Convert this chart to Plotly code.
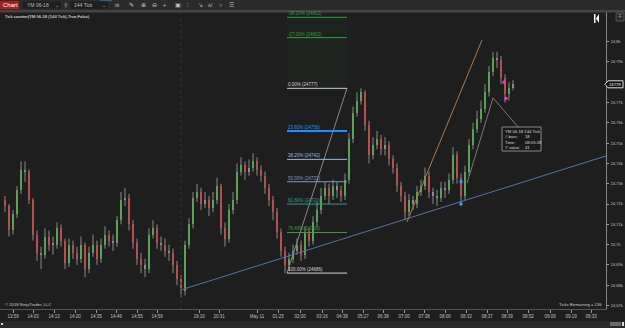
import plotly.graph_objects as go

# ---------------- data ----------------
first_open = 24722
closes = [24719,24707,24715,24727,24737,24736,24722,24705,24696,24695,
          24704,24700,24700,24708,24702,24691,24700,24696,24693,24700,
          24688,24696,24700,24693,24700,24705,24702,24701,24712,24722,
          24723,24710,24701,24693,24690,24688,24705,24708,24701,24700,
          24697,24696,24690,24683,24677,24700,24710,24723,24726,24720,
          24722,24718,24722,24729,24708,24703,24717,24722,24736,24739,
          24736,24738,24741,24737,24734,24728,24722,24716,24706,24697,
          24690,24693,24697,24700,24695,24706,24702,24711,24717,24724,
          24728,24724,24729,24727,24724,24732,24752,24765,24771,24775,
          24759,24744,24749,24752,24747,24749,24742,24738,24729,24724,
          24716,24722,24720,24726,24729,24734,24726,24724,24723,24728,
          24727,24732,24744,24733,24724,24736,24749,24757,24762,24767,
          24775,24785,24792,24791,24782,24774,24777,24779]
highs = [24724,24720,24717,24729,24741,24741,24737,24723,24707,24699,
         24708,24707,24704,24711,24710,24703,24703,24702,24699,24704,
         24701,24699,24705,24702,24703,24709,24707,24705,24714,24726,
         24728,24725,24712,24703,24696,24693,24708,24712,24710,24704,
         24703,24700,24698,24692,24685,24702,24713,24726,24730,24728,
         24726,24724,24726,24733,24730,24711,24720,24726,24740,24743,
         24741,24742,24745,24743,24739,24736,24730,24724,24718,24708,
         24699,24696,24700,24703,24702,24709,24708,24714,24721,24728,
         24731,24730,24732,24731,24729,24735,24755,24768,24775,24777,
         24776,24761,24753,24756,24754,24753,24751,24744,24740,24731,
         24726,24725,24724,24729,24732,24738,24736,24728,24727,24731,
         24731,24735,24748,24746,24735,24739,24752,24760,24766,24771,
         24779,24788,24795,24795,24793,24784,24780,24781]
lows = [24716,24704,24705,24713,24725,24731,24720,24702,24692,24688,
        24693,24697,24695,24698,24699,24688,24689,24693,24690,24691,
        24684,24686,24694,24690,24691,24698,24699,24697,24699,24710,
        24719,24707,24698,24690,24686,24684,24686,24703,24698,24697,
        24694,24692,24686,24680,24674,24675,24698,24708,24721,24717,
        24718,24714,24716,24720,24705,24699,24701,24715,24720,24734,
        24732,24734,24736,24734,24731,24725,24719,24712,24703,24694,
        24686,24687,24691,24695,24692,24693,24699,24700,24709,24715,
        24722,24720,24722,24723,24721,24722,24730,24750,24763,24769,
        24756,24740,24742,24747,24744,24744,24739,24735,24726,24721,
        24712,24714,24717,24718,24724,24727,24723,24720,24719,24721,
        24723,24725,24730,24730,24720,24722,24734,24747,24755,24760,
        24765,24773,24783,24787,24779,24770,24771,24776]

tick_pos = [2, 7, 12.25, 17.5, 22.75, 27.75, 33, 38, 48.5, 53.5, 63, 68.25, 73.75,
            79.25, 84.25, 89.5, 94.5, 99.75, 104.75, 110, 115.25, 120.5, 125.5, 130.75,
            136.25, 141.5, 146.5]
tick_text = ["13:59", "14:03", "14:13", "14:20", "14:35", "14:49", "14:55", "14:59",
             "19:10", "20:31", "May 11", "01:25", "02:00", "03:16", "04:38", "05:27",
             "06:38", "07:00", "07:38", "08:00", "08:33", "08:37", "08:39", "08:52",
             "09:06", "09:19", "09:33"]

price_ticks = [24670, 24680, 24690, 24700, 24710, 24720, 24730, 24740, 24750,
               24760, 24770, 24790, 24800]
last_price = 24779

fib_pct = ["-38.20%", "-27.00%", "0.00%", "23.60%", "38.20%", "50.00%", "61.80%", "76.40%", "100.00%"]
fib_price = [24812, 24802, 24777, 24756, 24742, 24731, 24720, 24706, 24686]
fib_anchor_x = [70.5, 85.5]
fib_anchor_y = [24686, 24777]

trend_blue_x = [44, 150.25]
trend_blue_y = [24677.7, 24743.7]
trend_tan_x = [100.5, 119.25]
trend_tan_y = [24711.2, 24800.8]
ray_x = [115.5, 122, 128.25]
ray_y = [24730.3, 24772.3, 24758]

blue_mark_x = [114, 114]
blue_mark_y = [24731, 24720]
pink_mark_x = [124.75, 125.25]
pink_mark_y = [24780, 24772]

# ---------------- geometry helpers (chrome only) ----------------
W, H = 625, 328
L, R, T, B = 0, 19, 11, 19
PW, PH = W - L - R, H - T - B


def px(x):
    return (x - L) / PW


def py(y):
    return (H - B - y) / PH


BG = "#1e1e1e"
opens = [first_open] + closes[:-1]
idx = list(range(len(closes)))

wx, wy = [], []
for i, h, l in zip(idx, highs, lows):
    wx += [i, i, None]
    wy += [l, h, None]

body_base, body_len, body_col = [], [], []
for o, c in zip(opens, closes):
    body_base.append(min(o, c))
    body_len.append(max(abs(c - o), 0.7))
    if abs(c - o) <= 2:
        body_col.append("#8c8c8c")
    elif c > o:
        body_col.append("#2fb52f")
    else:
        body_col.append("#e2141a")

fig = go.Figure()
fig.add_trace(go.Scatter(x=wx, y=wy, mode="lines", line=dict(color="#8a8a8a", width=1),
                         hoverinfo="skip", showlegend=False))
fig.add_trace(go.Bar(x=idx, y=body_len, base=body_base, width=0.55,
                     marker=dict(color=body_col, line=dict(width=0)), showlegend=False))

# trend lines
fig.add_trace(go.Scatter(x=trend_blue_x, y=trend_blue_y, mode="lines",
                         line=dict(color="#5673a8", width=1), showlegend=False))
fig.add_trace(go.Scatter(x=trend_tan_x, y=trend_tan_y, mode="lines",
                         line=dict(color="#b07a50", width=1), showlegend=False))
fig.add_trace(go.Scatter(x=fib_anchor_x, y=fib_anchor_y, mode="lines",
                         line=dict(color="#8a8a8a", width=1), showlegend=False))
fig.add_trace(go.Scatter(x=ray_x, y=ray_y, mode="lines",
                         line=dict(color="#7a7a7a", width=1), showlegend=False))
fig.add_trace(go.Scatter(x=blue_mark_x, y=blue_mark_y, mode="markers",
                         marker=dict(symbol="square", size=3, color="#3d9bff"), showlegend=False))
fig.add_trace(go.Scatter(x=pink_mark_x, y=pink_mark_y, mode="markers",
                         marker=dict(symbol="square", size=3, color="#ff33cc"), showlegend=False))

shapes = []
annotations = []

# fibonacci levels
fib_cols = ["#2e9e3e", "#2e9e3e", "#cfcfcf", "#1e90ff", "#9ab8e0", "#7f9bbf", "#3a9a8a", "#3ca03c", "#d8d8d8"]
fib_w = [1, 1, 1, 2, 1, 1, 1, 1, 1]
shapes.append(dict(type="rect", xref="x", yref="y", x0=fib_anchor_x[0], x1=fib_anchor_x[1],
                   y0=fib_price[2], y1=fib_price[0], fillcolor="rgba(50,110,60,0.07)",
                   line=dict(width=0), layer="below"))
for p, lab, col, w in zip(fib_price, fib_pct, fib_cols, fib_w):
    shapes.append(dict(type="line", xref="x", yref="y", x0=fib_anchor_x[0], x1=fib_anchor_x[1],
                       y0=p, y1=p, line=dict(color=col, width=w)))
    annotations.append(dict(xref="x", yref="y", x=fib_anchor_x[0], y=p, text=f"{lab} ({p})",
                            showarrow=False, xanchor="left", yanchor="bottom", borderpad=0,
                            font=dict(size=4.5, color=col, family="Liberation Sans")))

# session break
shapes.append(dict(type="line", xref="x", yref="paper", x0=44, x1=44, y0=0, y1=1,
                   line=dict(color="#333333", width=1, dash="dot")))

# toolbar & chrome
shapes.append(dict(type="rect", xref="paper", yref="paper", x0=px(0), x1=px(W), y0=py(0), y1=py(10),
                   fillcolor="#2b2b2b", line=dict(width=0)))
shapes.append(dict(type="rect", xref="paper", yref="paper", x0=px(0), x1=px(W), y0=py(10), y1=py(12.5),
                   fillcolor="#444444", line=dict(width=0)))
shapes.append(dict(type="rect", xref="paper", yref="paper", x0=px(100), x1=px(112), y0=py(0), y1=py(1),
                   fillcolor="#3a5f8a", line=dict(width=0)))
shapes.append(dict(type="rect", xref="paper", yref="paper", x0=px(0), x1=px(19), y0=py(1), y1=py(9),
                   fillcolor="#a81d1d", line=dict(width=0)))
for a, b in [(23, 61), (70, 108)]:
    shapes.append(dict(type="rect", xref="paper", yref="paper", x0=px(a), x1=px(b), y0=py(1.5), y1=py(8.5),
                       fillcolor="#1f1f1f", line=dict(width=0)))
shapes.append(dict(type="rect", xref="paper", yref="paper", x0=px(0), x1=px(W), y0=py(321), y1=py(H),
                   fillcolor="#2a2a2a", line=dict(width=0)))
shapes.append(dict(type="rect", xref="paper", yref="paper", x0=px(610), x1=px(621), y0=py(322), y1=py(326),
                   fillcolor="#6a6a6a", line=dict(width=0)))
shapes.append(dict(type="rect", xref="paper", yref="paper", x0=px(622), x1=px(624), y0=py(322), y1=py(326),
                   fillcolor="#dddddd", line=dict(width=0)))
shapes.append(dict(type="rect", xref="paper", yref="paper", x0=px(1), x1=px(3), y0=py(323), y1=py(325),
                   fillcolor="#dddddd", line=dict(width=0)))
# |< icon
shapes.append(dict(type="rect", xref="paper", yref="paper", x0=px(594), x1=px(595.5), y0=py(14), y1=py(23),
                   fillcolor="#ffffff", line=dict(width=0)))
shapes.append(dict(type="path", xref="paper", yref="paper",
                   path=f"M {px(599)} {py(14)} L {px(596)} {py(18.5)} L {px(599)} {py(23)} Z",
                   fillcolor="#ffffff", line=dict(width=0)))
shapes.append(dict(type="rect", xref="paper", yref="paper", x0=px(616), x1=px(624), y0=py(13), y1=py(21),
                   fillcolor="#2b2b2b", line=dict(color="#555", width=1)))
# last price box
yl = 84.3
shapes.append(dict(type="path", xref="paper", yref="paper",
                   path=(f"M {px(605)} {py(yl)} L {px(608)} {py(yl-3.5)} L {px(623)} {py(yl-3.5)} "
                         f"L {px(623)} {py(yl+3.5)} L {px(608)} {py(yl+3.5)} Z"),
                   fillcolor="#111111", line=dict(color="#e0e0e0", width=1)))
# tooltip box
shapes.append(dict(type="rect", xref="paper", yref="paper", x0=px(502), x1=px(541), y0=py(127), y1=py(151),
                   fillcolor="#1a1a1a", line=dict(color="#8a8a8a", width=1)))


def ann(x, y, text, size=4.5, color="#dddddd", xanchor="left", yanchor="middle"):
    annotations.append(dict(xref="paper", yref="paper", x=px(x), y=py(y), text=text, showarrow=False,
                            xanchor=xanchor, yanchor=yanchor, borderpad=0,
                            font=dict(size=size, color=color, family="Liberation Sans")))


ann(1.5, 5, "Chart", size=6, color="#ffffff")
ann(26, 5, "YM 06-18", size=5, color="#bbbbbb")
ann(54, 5, "⌄", size=5, color="#bbbbbb")
ann(63, 5, "⚲", size=5, color="#bbbbbb")
ann(73, 5, "144 Tick", size=5, color="#bbbbbb")
ann(101, 5, "⌄", size=5, color="#bbbbbb")
for xx, g in [(114, "ılı"), (128, "✎"), (140, "⊕"), (151, "⊖"), (162, "+"), (174, "▣"),
              (186, "⫶"), (197, "↘"), (207, "ʌ/"), (218, "○"), (228, "☰")]:
    ann(xx, 5, g, size=5.5, color="#c8c8c8")
ann(618, 17, "F", size=4.5, color="#aaaaaa")
ann(4, 17, "Tick counter(YM 06-18 (144 Tick),True,False)", size=4.2, color="#ffffff")
ann(4, 304, "© 2018 NinjaTrader, LLC", size=4.2, color="#cfcfcf")
ann(603, 304, "Ticks Remaining = 136", size=4.2, color="#cfcfcf", xanchor="right")
ann(615, yl, str(last_price), size=4.2, color="#ffffff", xanchor="center")
ann(504, 131, "YM 06-18 144 Tick", size=4.2)
ann(504, 136.5, "# bars:", size=4.2)
ann(504, 142, "Time:", size=4.2)
ann(504, 147.5, "Y value:", size=4.2)
ann(524, 136.5, "18", size=4.2)
ann(524, 142, "08:05:28", size=4.2)
ann(524, 147.5, "41", size=4.2)

fig.update_layout(
    width=W, height=H,
    margin=dict(l=L, r=R, t=T, b=B, autoexpand=False),
    paper_bgcolor=BG, plot_bgcolor=BG,
    showlegend=False, bargap=0,
    shapes=shapes, annotations=annotations,
    font=dict(family="Liberation Sans", color="#bbbbbb"),
    xaxis=dict(range=[-1.25, 150.25], showgrid=False, zeroline=False,
               tickmode="array", tickvals=tick_pos, ticktext=tick_text,
               ticks="outside", ticklen=3, tickcolor="#999999",
               showline=True, linecolor="#555555", linewidth=1,
               tickfont=dict(size=4.5, color="#c0c0c0")),
    yaxis=dict(range=[24668.3, 24815.1], side="right", showgrid=False, zeroline=False,
               tickmode="array", tickvals=price_ticks, ticklabelstandoff=1,
               ticks="outside", ticklen=2, tickcolor="#999999",
               showline=True, linecolor="#888888", linewidth=1,
               tickfont=dict(size=4, color="#c0c0c0")),
)

fig.write_html("out.html")
